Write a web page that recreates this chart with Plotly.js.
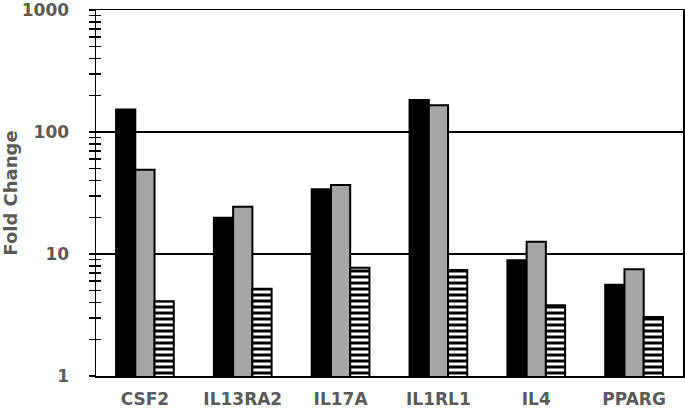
<!DOCTYPE html>
<html>
<head>
<meta charset="utf-8">
<script src="https://cdn.plot.ly/plotly-3.0.1.min.js"></script>
<style>html,body{margin:0;padding:0;background:#fff;}#chart{width:685px;height:410px;}</style>
</head>
<body>
<div id="chart"></div>
<script>
const genes = ["CSF2", "IL13RA2", "IL17A", "IL1RL1", "IL4", "PPARG"];
const seriesBlack = [153, 19.8, 34, 183, 8.9, 5.6];
const seriesGray = [49, 24.4, 36.8, 166, 12.6, 7.5];
const seriesHatched = [4.1, 5.2, 7.7, 7.4, 3.8, 3.05];
const majorTicks = [1, 10, 100, 1000];
const majorLabels = ["1", "10", "100", "1000"];
const minorTicks = [2,3,4,5,6,7,8,9,20,30,40,50,60,70,80,90,200,300,400,500,600,700,800,900];

const labelColor = "#5a5a5a";
const fontFam = "DejaVu Sans, Arial, sans-serif";

const traces = [
  {type: "bar", x: genes, y: seriesBlack, name: "A",
   marker: {color: "#000000", line: {color: "#000000", width: 2}}},
  {type: "bar", x: genes, y: seriesGray, name: "B",
   marker: {color: "#a6a6a6", line: {color: "#000000", width: 2}}},
  {type: "bar", x: genes, y: seriesHatched, name: "C",
   marker: {color: "#ffffff", line: {color: "#000000", width: 2},
            pattern: {shape: "-", fgcolor: "#000000", bgcolor: "#ffffff", size: 6, solidity: 0.5}}},
  {type: "scatter", mode: "markers", x: [genes[0]], y: [majorTicks[0]], yaxis: "y2",
   marker: {opacity: 0, size: 1}, showlegend: false, hoverinfo: "skip"}
];

const layout = {
  width: 685, height: 410,
  margin: {l: 96, r: 2, t: 10, b: 34},
  paper_bgcolor: "#ffffff", plot_bgcolor: "#ffffff",
  showlegend: false,
  barmode: "group", bargap: 0.41, bargroupgap: 0,
  font: {family: fontFam, color: labelColor},
  xaxis: {
    type: "category",
    showline: true, linecolor: "#000000", linewidth: 1.5, mirror: "all",
    ticks: "", showgrid: false,
    tickfont: {family: fontFam, size: 17, color: labelColor, weight: "bold"},
    ticklabelstandoff: 7
  },
  yaxis: {
    type: "log", range: [0, 3],
    tickmode: "array", tickvals: majorTicks, ticktext: majorLabels,
    ticks: "outside", ticklen: 6, tickwidth: 1.5, tickcolor: "#000000",
    minor: {tickmode: "array", tickvals: minorTicks, ticks: "outside", ticklen: 6, tickwidth: 1.5, tickcolor: "#000000", showgrid: false},
    showline: true, linecolor: "#000000", linewidth: 1.5, mirror: "all",
    showgrid: true, gridcolor: "#000000", gridwidth: 1.5,
    zeroline: false,
    ticklabeloverflow: "allow",
    tickfont: {family: fontFam, size: 17, color: labelColor, weight: "bold"},
    ticklabelstandoff: 16,
    title: {text: "Fold Change", font: {family: fontFam, size: 18, color: labelColor, weight: "bold"}, standoff: 11}
  },
  yaxis2: {
    type: "log", range: [0, 3], overlaying: "y", side: "left",
    tickmode: "array", tickvals: majorTicks, ticktext: ["", "", "", ""],
    ticks: "inside", ticklen: 5, tickwidth: 1.5, tickcolor: "#000000",
    minor: {tickmode: "array", tickvals: minorTicks, ticks: "inside", ticklen: 5, tickwidth: 1.5, tickcolor: "#000000", showgrid: false},
    showgrid: false, showline: false, zeroline: false, showticklabels: false
  }
};

Plotly.newPlot("chart", traces, layout, {displayModeBar: false, staticPlot: true});
</script>
</body>
</html>
